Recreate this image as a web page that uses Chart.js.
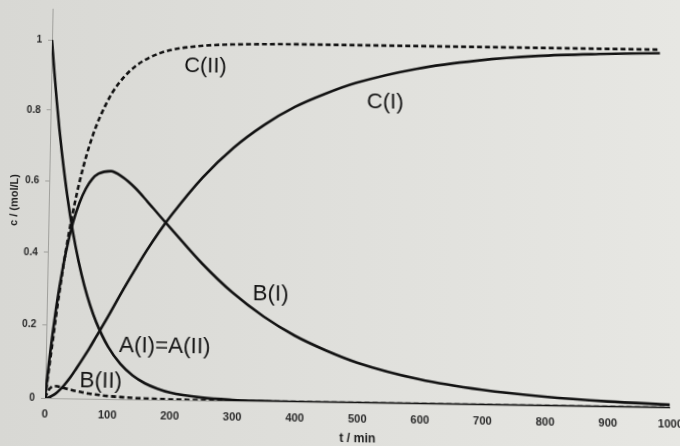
<!DOCTYPE html>
<html>
<head>
<meta charset="utf-8">
<script src="https://cdn.jsdelivr.net/npm/chart.js@4.4.0/dist/chart.umd.min.js"></script>
<style>
  html, body { margin: 0; padding: 0; overflow: hidden; }
  body { width: 680px; height: 446px; background: linear-gradient(to right, #d8d8d4, #e7e7e3); }
  #wrap { width: 680px; height: 446px; transform-origin: 0 0; }
</style>
</head>
<body>
<div id="wrap"><canvas id="canvas"></canvas></div>
<script>
// time points (min)
let times = [0, 5, 10, 15, 20, 30, 40, 50, 60, 70, 80, 100, 120, 140, 160, 180, 200, 250, 300, 350, 400, 450, 500, 600, 700, 800, 900, 1000];

// concentrations (mol/L)
let aBoth = [1, 0.907, 0.823, 0.746, 0.677, 0.557, 0.458, 0.377, 0.310, 0.255, 0.210, 0.142, 0.096, 0.065, 0.044, 0.030, 0.020, 0.008, 0.003, 0.001, 0, 0, 0, 0, 0, 0, 0, 0];
let bOne = [0, 0.092, 0.172, 0.244, 0.306, 0.408, 0.485, 0.540, 0.580, 0.607, 0.622, 0.630, 0.613, 0.584, 0.547, 0.508, 0.470, 0.376, 0.296, 0.232, 0.181, 0.142, 0.110, 0.067, 0.041, 0.025, 0.015, 0.009];
let cOne = [0, 0.001, 0.005, 0.010, 0.017, 0.035, 0.057, 0.083, 0.110, 0.138, 0.168, 0.228, 0.291, 0.351, 0.409, 0.462, 0.510, 0.616, 0.701, 0.767, 0.819, 0.858, 0.890, 0.933, 0.959, 0.975, 0.983, 0.988];
let bTwo = [0, 0.020, 0.030, 0.033, 0.032, 0.028, 0.024, 0.020, 0.017, 0.014, 0.012, 0.008, 0.006, 0.004, 0.003, 0.002, 0.0015, 0.0005, 0, 0, 0, 0, 0, 0, 0, 0, 0, 0];
let cTwo = [0, 0.073, 0.147, 0.221, 0.291, 0.415, 0.518, 0.603, 0.673, 0.731, 0.778, 0.850, 0.898, 0.931, 0.953, 0.968, 0.978, 0.990, 0.995, 0.997, 0.998, 0.998, 0.998, 0.998, 0.998, 0.998, 0.998, 0.998];

let xTicks = [0, 100, 200, 300, 400, 500, 600, 700, 800, 900, 1000];
let yTicks = [0, 0.2, 0.4, 0.6, 0.8, 1];

// curve names and where they sit (t, c)
let curveNames = ['C(II)', 'C(I)', 'B(I)', 'A(I)=A(II)', 'B(II)'];
let nameT = [253, 548, 361, 191, 89];
let nameC = [0.93, 0.837, 0.293, 0.145, 0.047];

function pts(vals) {
  return times.map((t, i) => ({x: t, y: vals[i]}));
}

function curve(vals, dashed) {
  return {
    data: pts(vals),
    borderColor: '#121212',
    borderWidth: 2.6,
    borderDash: dashed ? [5, 3] : [],
    pointRadius: 0,
    fill: false,
    cubicInterpolationMode: 'monotone'
  };
}

const names = {
  id: 'names',
  afterDatasetsDraw(chart) {
    let c = chart.ctx;
    let xs = chart.scales.x, ys = chart.scales.y;
    c.save();
    c.fillStyle = '#141414';
    c.font = '22px "Liberation Sans", Arial, sans-serif';
    c.textAlign = 'center';
    c.textBaseline = 'middle';
    for (let i = 0; i < curveNames.length; i++) {
      c.fillText(curveNames[i], xs.getPixelForValue(nameT[i]), ys.getPixelForValue(nameC[i]));
    }
    c.restore();
  }
};

let ctx = document.getElementById('canvas').getContext('2d');
let chart = new Chart(ctx, {
  type: 'line',
  data: {
    datasets: [
      curve(aBoth, false),
      curve(bOne, false),
      curve(cOne, false),
      curve(bTwo, true),
      curve(cTwo, true)
    ]
  },
  options: {
    responsive: true,
    maintainAspectRatio: false,
    animation: false,
    layout: { padding: { top: 13, right: 9, bottom: 0, left: 0 } },
    plugins: { legend: { display: false }, tooltip: { enabled: false } },
    scales: {
      x: {
        type: 'linear',
        min: 0,
        max: 1000,
        afterBuildTicks: (s) => { s.ticks = xTicks.map(v => ({value: v})); },
        afterFit: (s) => { s.height = 43; },
        grid: { display: false, drawTicks: false },
        border: { display: true, color: '#a8a8a4', width: 1 },
        ticks: {
          padding: 9,
          maxRotation: 0,
          color: '#2a2a2a',
          callback: (v) => String(v),
          font: { family: '"Liberation Sans", Arial, sans-serif', size: 11, weight: 'bold' }
        },
        title: {
          display: true,
          text: 't / min',
          color: '#1e1e1e',
          padding: { top: 0, bottom: 1 },
          font: { family: '"Liberation Sans", Arial, sans-serif', size: 12, weight: 'bold' }
        }
      },
      y: {
        min: 0,
        max: 1.09,
        afterBuildTicks: (s) => { s.ticks = yTicks.map(v => ({value: v})); },
        afterFit: (s) => { s.width = 48; },
        grid: { drawOnChartArea: false, drawTicks: true, tickLength: 4, color: '#a0a09c' },
        border: { display: true, color: '#a0a09c', width: 1 },
        ticks: {
          padding: 6,
          color: '#2a2a2a',
          callback: (v) => String(v),
          font: { family: '"Liberation Sans", Arial, sans-serif', size: 10, weight: 'bold' }
        },
        title: {
          display: true,
          text: 'c / (mol/L)',
          color: '#1e1e1e',
          padding: { top: 7, bottom: 0 },
          font: { family: '"Liberation Sans", Arial, sans-serif', size: 11, weight: 'bold' }
        }
      }
    }
  },
  plugins: [names]
});

// the source is a photo of a printed page: tilted and a little keystoned.
// map the plot corners onto where they sit in the photo
function solve(A, b) {
  let n = b.length;
  for (let i = 0; i < n; i++) {
    let p = i;
    for (let r = i + 1; r < n; r++) if (Math.abs(A[r][i]) > Math.abs(A[p][i])) p = r;
    [A[i], A[p]] = [A[p], A[i]];
    [b[i], b[p]] = [b[p], b[i]];
    for (let r = i + 1; r < n; r++) {
      let f = A[r][i] / A[i][i];
      for (let k = i; k < n; k++) A[r][k] -= f * A[i][k];
      b[r] -= f * b[i];
    }
  }
  let h = new Array(n).fill(0);
  for (let i = n - 1; i >= 0; i--) {
    let s = b[i];
    for (let k = i + 1; k < n; k++) s -= A[i][k] * h[k];
    h[i] = s / A[i][i];
  }
  return h;
}

let xs = chart.scales.x, ys = chart.scales.y;
let src = [[0, 0], [0, 1], [1000, 1], [1000, 0]].map(p => [xs.getPixelForValue(p[0]), ys.getPixelForValue(p[1])]);
let dst = [[45, 398], [52, 40], [660, 49], [670, 408]];
let A = [], b = [];
for (let i = 0; i < 4; i++) {
  let [x, y] = src[i], [u, v] = dst[i];
  A.push([x, y, 1, 0, 0, 0, -u * x, -u * y]); b.push(u);
  A.push([0, 0, 0, x, y, 1, -v * x, -v * y]); b.push(v);
}
let h = solve(A, b);
document.getElementById('wrap').style.transform =
  'matrix3d(' + [h[0], h[3], 0, h[6], h[1], h[4], 0, h[7], 0, 0, 1, 0, h[2], h[5], 0, 1].join(',') + ')';
</script>
</body>
</html>
